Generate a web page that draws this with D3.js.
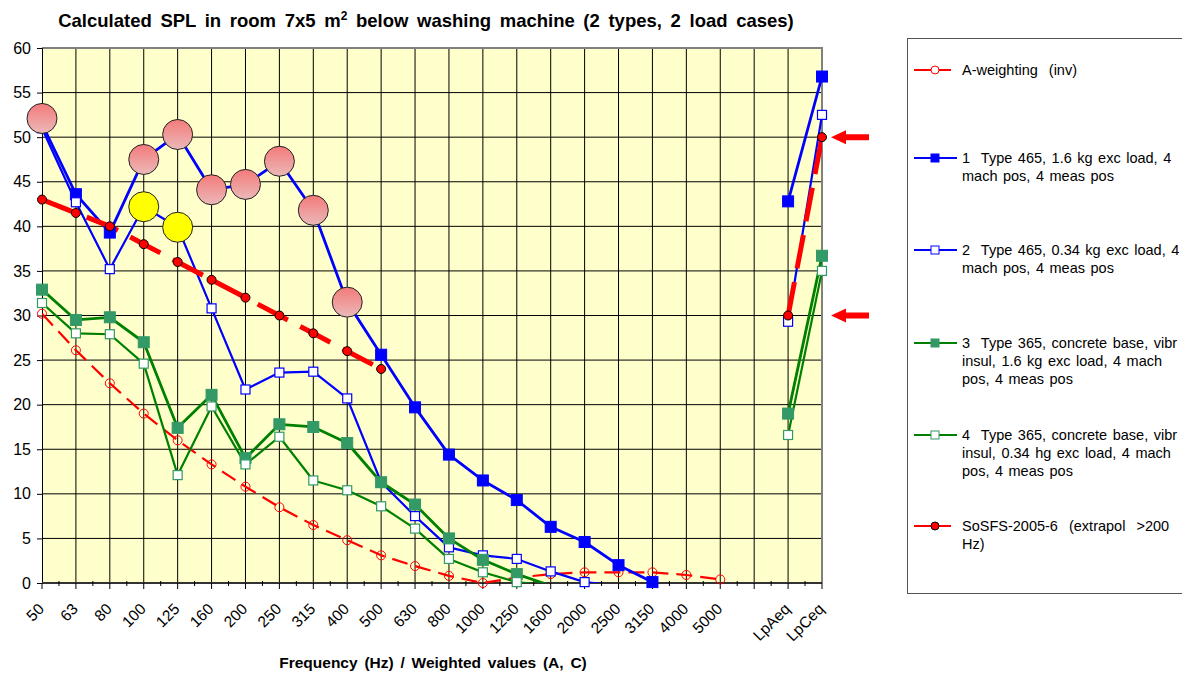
<!DOCTYPE html>
<html>
<head>
<meta charset="utf-8">
<script src="https://cdn.jsdelivr.net/npm/d3@7"></script>
<style>
  body { margin: 0; background: #fff; }
  text { font-family: "Liberation Sans", Arial, sans-serif; fill: #000; }
</style>
</head>
<body>
<svg id="chart" width="1182" height="675"></svg>
<script>
// categories along the x axis (one empty slot before the weighted values)
var categories = ["50", "63", "80", "100", "125", "160", "200", "250", "315", "400", "500", "630", "800",
  "1000", "1250", "1600", "2000", "2500", "3150", "4000", "5000", "", "LpAeq", "LpCeq"];

var yTicks = [0, 5, 10, 15, 20, 25, 30, 35, 40, 45, 50, 55, 60];

var aWeighting = [30.2, 26.1, 22.4, 19.0, 16.0, 13.3, 10.8, 8.5, 6.5, 4.8, 3.1, 1.9, 0.8,
  0.0, 0.6, 1.0, 1.2, 1.2, 1.2, 0.9, 0.4, null, null, null];
var type465Load16 = [51.5, 43.6, 39.3, 47.5, 50.3, 44.1, 44.7, 47.3, 41.8, 31.5, 25.6, 19.7, 14.4,
  11.5, 9.3, 6.3, 4.6, 2.0, 0.1, null, null, null, 42.8, 56.8];
var type465Load034 = [51.0, 42.7, 35.2, 42.2, 39.9, 30.8, 21.7, 23.6, 23.7, 20.7, 11.3, 7.5, 4.0,
  3.1, 2.7, 1.3, 0.1, -0.3, null, null, null, null, 29.3, 52.5];
var type365Load16 = [32.9, 29.5, 29.8, 27.0, 17.4, 21.1, 14.0, 17.8, 17.5, 15.7, 11.3, 8.8, 5.0,
  2.6, 1.0, -0.3, null, null, null, null, null, null, 19.0, 36.7];
var type365Load034 = [31.4, 28.0, 27.9, 24.6, 12.1, 19.8, 13.3, 16.4, 11.5, 10.4, 8.6, 6.1, 2.7,
  1.2, 0.1, -0.3, null, null, null, null, null, null, 16.6, 35.0];
var sosfs = [43.0, 41.5, 40.0, 38.0, 36.0, 34.0, 32.0, 30.0, 28.0, 26.0, 24.0, null, null,
  null, null, null, null, null, null, null, null, null, 30.0, 50.0];

// highlighted points (big circles)
var pinkCats = ["50", "100", "125", "160", "200", "250", "315", "400"];
var pinkVals = [52.1, 47.5, 50.3, 44.1, 44.7, 47.3, 41.8, 31.5];
var yellowCats = ["100", "125"];
var yellowVals = [42.2, 39.9];

// red arrows pointing at the limits
var arrowVals = [50, 30];

var legendLabels = [
  ["A-weighting  (inv)"],
  ["1  Type 465, 1.6 kg exc load, 4", "mach pos, 4 meas pos"],
  ["2  Type 465, 0.34 kg exc load, 4", "mach pos, 4 meas pos"],
  ["3  Type 365, concrete base, vibr", "insul, 1.6 kg exc load, 4 mach", "pos, 4 meas pos"],
  ["4  Type 365, concrete base, vibr", "insul, 0.34 hg exc load, 4 mach", "pos, 4 meas pos"],
  ["SoSFS-2005-6  (extrapol  >200", "Hz)"]
];

function drawChart() {
  var svg = d3.select("#chart");
  var pLeft = 42, pTop = 48, pRight = 822, pBottom = 583;

  var x = d3.scalePoint().domain(categories).range([pLeft, pRight]);
  var y = d3.scaleLinear().domain([0, 60]).range([pBottom, pTop]);

  var defs = svg.append("defs");
  defs.append("clipPath").attr("id", "plotClip")
    .append("rect")
    .attr("x", pLeft).attr("y", pTop)
    .attr("width", pRight - pLeft).attr("height", pBottom - pTop);

  var grad = defs.append("linearGradient").attr("id", "pinkGrad")
    .attr("x1", 0).attr("y1", 0).attr("x2", 0).attr("y2", 1);
  grad.append("stop").attr("offset", "0%").attr("stop-color", "#f47a7a");
  grad.append("stop").attr("offset", "100%").attr("stop-color", "#ebb9b9");

  // plot background
  svg.append("rect")
    .attr("x", pLeft).attr("y", pTop)
    .attr("width", pRight - pLeft).attr("height", pBottom - pTop)
    .attr("fill", "#ffffcc");

  // grid
  svg.selectAll(".hgrid")
    .data(yTicks.filter(function (d) { return d > 0 && d < 60; }))
    .enter().append("line")
    .attr("x1", pLeft).attr("x2", pRight)
    .attr("y1", function (d) { return y(d); })
    .attr("y2", function (d) { return y(d); })
    .attr("stroke", "#000").attr("stroke-width", 1);

  svg.selectAll(".vgrid")
    .data(categories.slice(1, categories.length - 1))
    .enter().append("line")
    .attr("x1", function (d) { return x(d); })
    .attr("x2", function (d) { return x(d); })
    .attr("y1", pTop).attr("y2", pBottom)
    .attr("stroke", "#000").attr("stroke-width", 1);

  // plot border top / right
  svg.append("path")
    .attr("d", "M" + pLeft + "," + pTop + "H" + pRight + "V" + pBottom)
    .attr("fill", "none").attr("stroke", "#808080").attr("stroke-width", 2);

  // y axis
  var yAxis = d3.axisLeft(y).tickValues(yTicks).tickSize(5).tickPadding(6);
  var gy = svg.append("g").attr("transform", "translate(" + pLeft + ",0)").call(yAxis);
  gy.select(".domain").attr("stroke", "#000");
  gy.selectAll("text").style("font-size", "16px").style("font-family", "Liberation Sans, Arial, sans-serif");

  // x axis
  var step = x.step();
  svg.append("line")
    .attr("x1", pLeft).attr("x2", pRight).attr("y1", pBottom).attr("y2", pBottom)
    .attr("stroke", "#333").attr("stroke-width", 2);
  svg.selectAll(".xtick")
    .data(categories)
    .enter().append("line")
    .attr("x1", function (d) { return x(d); })
    .attr("x2", function (d) { return x(d); })
    .attr("y1", pBottom).attr("y2", pBottom + 6)
    .attr("stroke", "#000");
  svg.selectAll(".xminor")
    .data(categories.slice(0, categories.length - 1))
    .enter().append("line")
    .attr("x1", function (d) { return x(d) + step / 2; })
    .attr("x2", function (d) { return x(d) + step / 2; })
    .attr("y1", pBottom - 2).attr("y2", pBottom + 3)
    .attr("stroke", "#000");
  svg.selectAll(".xlabel")
    .data(categories)
    .enter().append("text")
    .attr("transform", function (d) { return "translate(" + (x(d) + 3) + "," + (pBottom + 27) + ") rotate(-45)"; })
    .attr("text-anchor", "end")
    .style("font-size", "15.5px")
    .text(function (d) { return d; });

  // series: lines are clipped to the plot, markers are not
  var plot = svg.append("g").attr("clip-path", "url(#plotClip)");
  var marks = svg.append("g");

  function seriesPoints(vals) {
    return vals.map(function (v, i) { return { c: categories[i], v: v }; });
  }

  var line = d3.line()
    .defined(function (d) { return d.v !== null; })
    .x(function (d) { return x(d.c); })
    .y(function (d) { return y(d.v); });

  function drawLine(vals, color, width, dash) {
    plot.append("path")
      .datum(seriesPoints(vals))
      .attr("fill", "none")
      .attr("stroke", color)
      .attr("stroke-width", width)
      .attr("stroke-dasharray", dash)
      .attr("stroke-linejoin", "round")
      .attr("d", line);
  }

  function visible(vals) {
    return seriesPoints(vals).filter(function (d) { return d.v !== null && d.v >= 0; });
  }

  function drawSquares(vals, size, fill, stroke, sw) {
    marks.selectAll(null)
      .data(visible(vals))
      .enter().append("rect")
      .attr("x", function (d) { return x(d.c) - size / 2; })
      .attr("y", function (d) { return y(d.v) - size / 2; })
      .attr("width", size).attr("height", size)
      .attr("fill", fill).attr("stroke", stroke).attr("stroke-width", sw);
  }

  function drawDots(vals, r, fill, stroke, sw) {
    marks.selectAll(null)
      .data(visible(vals))
      .enter().append("circle")
      .attr("cx", function (d) { return x(d.c); })
      .attr("cy", function (d) { return y(d.v); })
      .attr("r", r)
      .attr("fill", fill).attr("stroke", stroke).attr("stroke-width", sw);
  }

  // A-weighting (inv)
  drawLine(aWeighting, "#ff0000", 2.2, "16,8");
  drawDots(aWeighting, 4.5, "none", "#ff0000", 1);

  // 1 Type 465, 1.6 kg
  drawLine(type465Load16, "#0000ff", 2.8, null);
  drawSquares(type465Load16, 11, "#0000ff", "#0000ff", 1);

  // 2 Type 465, 0.34 kg
  drawLine(type465Load034, "#0000ff", 2.2, null);
  drawSquares(type465Load034, 9, "#ffffff", "#0000ff", 1.2);

  // 3 Type 365, 1.6 kg
  drawLine(type365Load16, "#008000", 2.8, null);
  drawSquares(type365Load16, 11, "#339966", "#339966", 1);

  // 4 Type 365, 0.34 kg
  drawLine(type365Load034, "#008000", 2.2, null);
  drawSquares(type365Load034, 9, "#ffffff", "#339966", 1.2);

  // SoSFS-2005-6
  drawLine(sosfs, "#ff0000", 5, "34,14");
  drawDots(sosfs, 4.5, "#ff0000", "#000", 1);

  // highlight circles
  svg.selectAll(".pink")
    .data(pinkCats.map(function (c, i) { return { c: c, v: pinkVals[i] }; }))
    .enter().append("circle")
    .attr("cx", function (d) { return x(d.c); })
    .attr("cy", function (d) { return y(d.v); })
    .attr("r", 15)
    .attr("fill", "url(#pinkGrad)")
    .attr("stroke", "#222").attr("stroke-width", 1);

  svg.selectAll(".yellow")
    .data(yellowCats.map(function (c, i) { return { c: c, v: yellowVals[i] }; }))
    .enter().append("circle")
    .attr("cx", function (d) { return x(d.c); })
    .attr("cy", function (d) { return y(d.v); })
    .attr("r", 15)
    .attr("fill", "#ffff00")
    .attr("stroke", "#222").attr("stroke-width", 1);

  // arrows
  var tipX = x("LpCeq") + 9;
  svg.selectAll(".arrow")
    .data(arrowVals)
    .enter().append("path")
    .attr("transform", function (d) { return "translate(" + tipX + "," + y(d) + ")"; })
    .attr("d", "M0,0 L15,-7 L15,-3 L38,-3 L38,3 L15,3 L15,7 Z")
    .attr("fill", "#ff0000");

  // title
  var title = svg.append("text")
    .attr("x", 426).attr("y", 27)
    .attr("text-anchor", "middle")
    .style("font-size", "18.5px").style("font-weight", "bold")
    .style("word-spacing", "3.5px");
  title.append("tspan").text("Calculated SPL in room 7x5 m");
  title.append("tspan").attr("dy", -7).style("font-size", "12px").text("2");
  title.append("tspan").attr("dy", 7).text(" below washing machine (2 types, 2 load cases)");

  svg.append("text")
    .attr("x", 433).attr("y", 668)
    .attr("text-anchor", "middle")
    .style("font-size", "15.5px").style("font-weight", "bold")
    .style("word-spacing", "2.5px")
    .text("Frequency (Hz) / Weighted values (A, C)");

  // legend
  svg.append("rect")
    .attr("x", 907.5).attr("y", 38.5)
    .attr("width", 300).attr("height", 555)
    .attr("fill", "#fff").attr("stroke", "#555").attr("stroke-width", 1);

  var legendY = [70, 158, 250, 343, 435, 526];
  var legendStyle = [
    { color: "#ff0000", shape: "circle", fill: "#fff", stroke: "#ff0000", len: 37 },
    { color: "#0000ff", shape: "square", fill: "#0000ff", stroke: "#0000ff", len: 43 },
    { color: "#0000ff", shape: "square", fill: "#fff", stroke: "#0000ff", len: 43 },
    { color: "#008000", shape: "square", fill: "#339966", stroke: "#339966", len: 43 },
    { color: "#008000", shape: "square", fill: "#fff", stroke: "#339966", len: 43 },
    { color: "#ff0000", shape: "circle", fill: "#ff0000", stroke: "#000", len: 37 }
  ];

  legendLabels.forEach(function (lines, i) {
    var st = legendStyle[i];
    var g = svg.append("g").attr("transform", "translate(0," + legendY[i] + ")");
    g.append("line")
      .attr("x1", 914).attr("x2", 914 + st.len).attr("y1", 0).attr("y2", 0)
      .attr("stroke", st.color).attr("stroke-width", 2);
    if (st.shape === "circle") {
      g.append("circle").attr("cx", 935).attr("cy", 0).attr("r", 4)
        .attr("fill", st.fill).attr("stroke", st.stroke).attr("stroke-width", 1);
    } else {
      g.append("rect").attr("x", 931).attr("y", -4).attr("width", 8).attr("height", 8)
        .attr("fill", st.fill).attr("stroke", st.stroke).attr("stroke-width", 1);
    }
    lines.forEach(function (t, j) {
      g.append("text")
        .attr("x", 962).attr("y", 5 + j * 18)
        .style("white-space", "pre")
        .style("font-size", "14.5px")
        .style("word-spacing", "1.5px")
        .text(t);
    });
  });
}

drawChart();
</script>
</body>
</html>
